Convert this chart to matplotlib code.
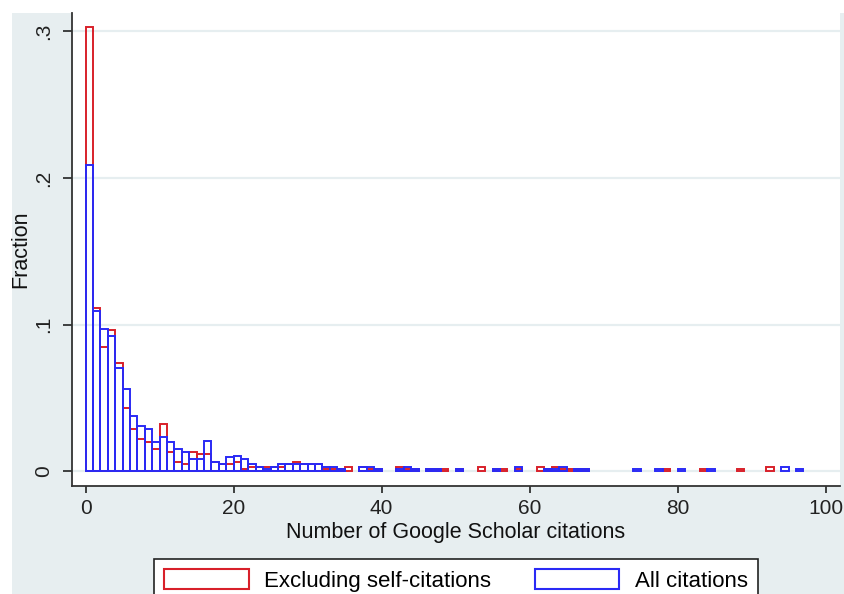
import matplotlib
matplotlib.use("Agg")
import matplotlib.pyplot as plt
import numpy as np
from matplotlib.patches import Patch, Rectangle

# fraction of papers per 1-citation bin (bins 0..97)
excl_self = [0.303, 0.111, 0.085, 0.096, 0.074, 0.043, 0.029, 0.022, 0.020, 0.015,
             0.032, 0.013, 0.0065, 0.0048, 0.0132, 0.0116, 0.0116, 0.0064, 0.0048, 0.0048,
             0.0064, 0.0014, 0.003, 0.003, 0.003, 0.003, 0.003, 0.0048, 0.0064, 0.0048,
             0.0048, 0.0048, 0.0014, 0.0014, 0.0014, 0.003, 0, 0.003, 0.0014, 0.0014,
             0, 0, 0.003, 0.0014, 0.0014, 0, 0.0014, 0.0014, 0.0014, 0,
             0.0014, 0, 0, 0.003, 0, 0.0014, 0.0014, 0, 0.0014, 0,
             0, 0.003, 0.0014, 0.003, 0.0014, 0.0014, 0.0014, 0.0014, 0, 0,
             0, 0, 0, 0, 0, 0, 0, 0, 0.0014, 0,
             0, 0, 0, 0.0014, 0, 0, 0, 0, 0.0014, 0,
             0, 0, 0.003, 0, 0, 0, 0, 0]
all_cites = [0.209, 0.1094, 0.0971, 0.0922, 0.0701, 0.0562, 0.0373, 0.0305, 0.0287, 0.020,
             0.0234, 0.020, 0.015, 0.0132, 0.0082, 0.0082, 0.0203, 0.0064, 0.0048, 0.0098,
             0.0102, 0.0082, 0.0048, 0.003, 0.0014, 0.003, 0.0048, 0.0048, 0.0048, 0.0048,
             0.0048, 0.0048, 0.003, 0.003, 0.0014, 0, 0, 0.003, 0.003, 0.0014,
             0, 0, 0.0014, 0.003, 0.0014, 0, 0.0014, 0.0014, 0, 0,
             0.0014, 0, 0, 0, 0, 0.0014, 0, 0, 0.003, 0,
             0, 0, 0.0014, 0.0014, 0.003, 0, 0.0014, 0.0014, 0, 0,
             0, 0, 0, 0, 0.0014, 0, 0, 0.0014, 0, 0,
             0.0014, 0, 0, 0, 0.0014, 0, 0, 0, 0, 0,
             0, 0, 0, 0, 0.003, 0, 0.0014, 0]
labels = ['Excluding self-citations', 'All citations']
colors = ['#D8202A', '#2A2AF5']

x_ticks = [0, 20, 40, 60, 80, 100]
y_ticks = [0, 0.1, 0.2, 0.3]
y_ticklabels = ['0', '.1', '.2', '.3']

plt.rcParams['font.family'] = ['Liberation Sans', 'DejaVu Sans']

W, H = 844, 594
fig = plt.figure(figsize=(W / 100, H / 100), dpi=100, facecolor='white')
fig.add_artist(Rectangle((12 / W, 0), 1 - 12 / W, (H - 13) / H,
                         transform=fig.transFigure, facecolor='#E7EEF0',
                         edgecolor='none', zorder=-10))

ax = fig.add_axes([72 / W, (H - 486) / H, 768 / W, 473 / H])
ax.set_facecolor('white')

bins = np.arange(len(excl_self))
for series, col in zip([excl_self, all_cites], colors):
    vals = np.array(series)
    m = vals > 0
    ax.bar(bins[m], vals[m], width=1.0, align='edge', fill=False,
           edgecolor=col, linewidth=1.4, zorder=3)

ax.set_xlim(-1.85, 101.95)
ax.set_ylim(-0.0102, 0.3126)
ax.set_xticks(x_ticks)
ax.set_yticks(y_ticks)
ax.set_yticklabels(y_ticklabels, rotation=90, va='center')
ax.tick_params(axis='x', length=5, width=1.2, pad=4, labelsize=15, colors='#222222')
ax.tick_params(axis='y', length=6.5, width=1.2, pad=7, labelsize=15, colors='#222222')
ax.grid(axis='y', color='#E6EEF0', linewidth=1.6, zorder=0)
ax.set_axisbelow(True)

for s in ['top', 'right']:
    ax.spines[s].set_visible(False)
for s in ['left', 'bottom']:
    ax.spines[s].set_color('#333333')
    ax.spines[s].set_linewidth(1.3)

ax.set_xlabel('Number of Google Scholar citations', fontsize=15.5, labelpad=3, color='#111111')
ax.set_ylabel('Fraction', fontsize=15.5, labelpad=2, color='#111111')

handles = [Patch(facecolor='white', edgecolor=c, linewidth=1.5) for c in colors]
leg = fig.legend(handles, labels, loc='upper center', ncol=2,
                 bbox_to_anchor=(456 / W, (H - 559) / H), fontsize=16,
                 handlelength=3.8, handleheight=1.0, handletextpad=0.7,
                 columnspacing=1.95, borderpad=0.45, borderaxespad=0,
                 fancybox=False, frameon=True, framealpha=1)
leg.get_frame().set_edgecolor('#222222')
leg.get_frame().set_linewidth(1.2)

fig.savefig('out.png', dpi=100, facecolor='white')
